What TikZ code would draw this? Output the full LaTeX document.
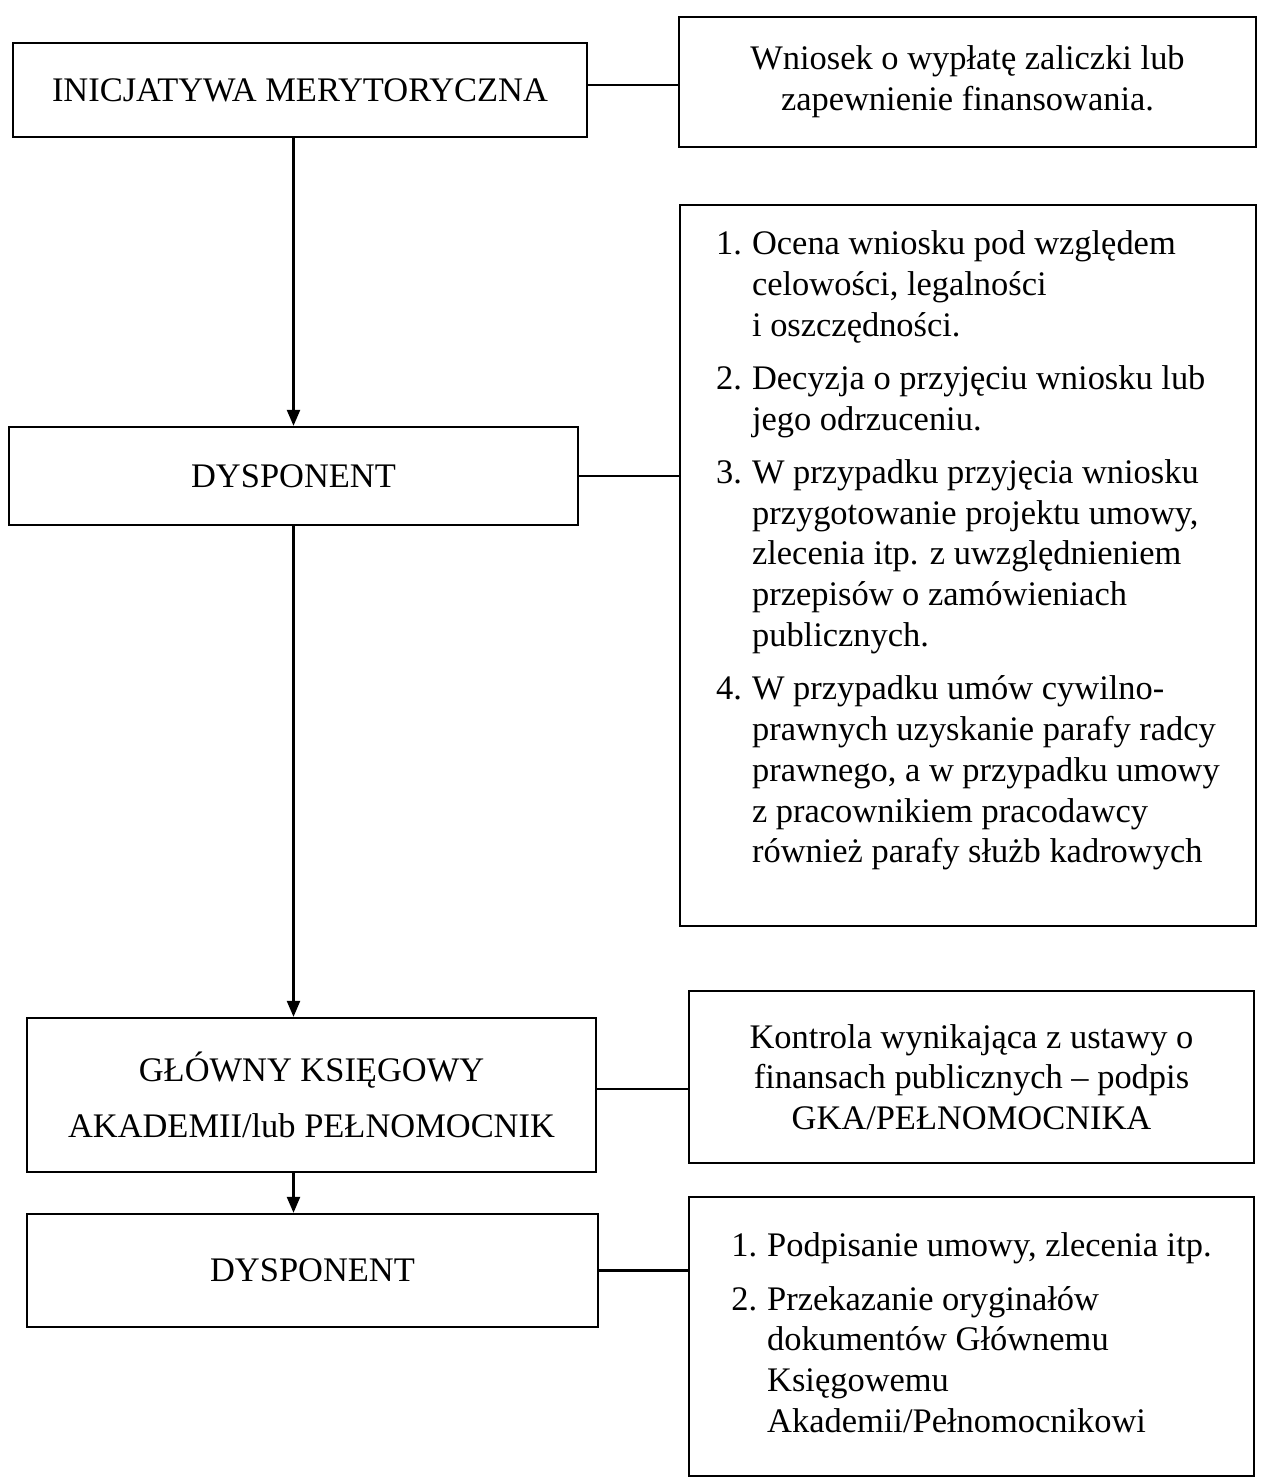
\documentclass[tikz,border=0pt]{standalone}
\usepackage{fontspec}
\setmainfont{Liberation Serif}
\usetikzlibrary{arrows.meta,positioning}

\begin{document}
\begin{tikzpicture}[
    box/.style = {rectangle, draw=black, line width=1.3pt, align=center, inner sep=0pt, font=\fontsize{19.6}{23.2}\selectfont},
    link/.style = {line width=1.3pt},
    arrow/.style = {line width=1.3pt, -{Triangle[length=3.2mm,width=2.6mm]}}
]
\useasboundingbox (0,0) rectangle (25.2,-29.6);

% Nodes
\node (init) [box, minimum width=11.48cm, minimum height=1.88cm] at (6.0,-1.8) {INICJATYWA MERYTORYCZNA};
\node (wniosek) [box, minimum width=11.54cm, minimum height=2.6cm] at (19.35,-1.64) {Wniosek o wypłatę zaliczki lub\\zapewnienie finansowania.};

\node (disp1) [box, minimum width=11.38cm, minimum height=1.96cm] at (5.87,-9.52) {DYSPONENT};
\node (ocena) [box, minimum width=11.52cm, minimum height=14.42cm] at (19.36,-11.31) {%
\begin{tabular}{@{}r@{\hspace{0.2cm}}l@{}}
1. & Ocena wniosku pod względem\\
   & celowości, legalności\\
   & i oszczędności.\\[0.25cm]
2. & Decyzja o przyjęciu wniosku lub\\
   & jego odrzuceniu.\\[0.25cm]
3. & W przypadku przyjęcia wniosku\\
   & przygotowanie projektu umowy,\\
   & zlecenia itp. z uwzględnieniem\\
   & przepisów o zamówieniach\\
   & publicznych.\\[0.25cm]
4. & W przypadku umów cywilno-\\
   & prawnych uzyskanie parafy radcy\\
   & prawnego, a w przypadku umowy\\
   & z pracownikiem pracodawcy\\
   & również parafy służb kadrowych\\[0.6cm]
\end{tabular}};

\node (gk) [box, minimum width=11.38cm, minimum height=3.08cm] at (6.23,-21.9) {GŁÓWNY KSIĘGOWY\\[0.3cm]AKADEMII/lub PEŁNOMOCNIK};
\node (kontrola) [box, minimum width=11.3cm, minimum height=3.44cm] at (19.43,-21.54) {Kontrola wynikająca z ustawy o\\finansach publicznych – podpis\\GKA/PEŁNOMOCNIKA};

\node (disp2) [box, minimum width=11.42cm, minimum height=2.26cm] at (6.25,-25.41) {DYSPONENT};
\node (podpis) [box, minimum width=11.3cm, minimum height=5.58cm] at (19.43,-26.73) {%
\begin{tabular}{@{}r@{\hspace{0.2cm}}l@{}}
1. & Podpisanie umowy, zlecenia itp.\\[0.25cm]
2. & Przekazanie oryginałów\\
   & dokumentów Głównemu\\
   & Księgowemu\\
   & Akademii/Pełnomocnikowi
\end{tabular}};

% Edges
\draw [link] ([yshift=0.1cm]init.east) -- ([yshift=0.1cm]init.east -| wniosek.west);
\draw [link] (disp1.east) -- (disp1.east -| ocena.west);
\draw [link] ([yshift=0.12cm]gk.east) -- ([yshift=0.12cm]gk.east -| kontrola.west);
\draw [link] (disp2.east) -- (disp2.east -| podpis.west);

\draw [arrow] (init.south -| disp1.north) -- (disp1.north);
\draw [arrow] (disp1.south) -- (disp1.south |- gk.north);
\draw [arrow] (gk.south -| disp1.south) -- (disp2.north -| disp1.south);

\end{tikzpicture}
\end{document}
